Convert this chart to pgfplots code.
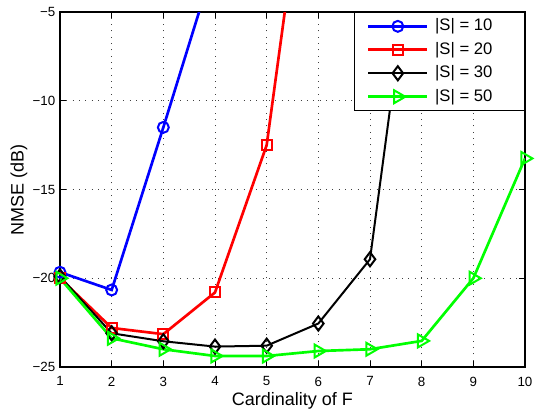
\documentclass[border=0pt]{standalone}
\usepackage{pgfplots}
\pgfplotsset{compat=1.18}
\usepackage{fontspec}
\setmainfont{Liberation Sans}
\begin{document}
\begin{tikzpicture}
\begin{axis}[%
width=348.75pt,
height=266.25pt,
scale only axis,
xmin=1, xmax=10,
ymin=-25, ymax=-5,
xtick={1,2,...,10},
ytick={-25,-20,-15,-10,-5},
yticklabels={−25,−20,−15,−10,−5},
xlabel={Cardinality of F},
ylabel={NMSE (dB)},
xmajorgrids, ymajorgrids,
grid style={black!75, dash pattern=on 0.75pt off 4pt, line width=0.6pt},
tick align=inside,
major tick length=4.5pt,
tick style={black, line width=0.5pt},
axis line style={line width=0.8pt},
ticklabel style={font=\fontsize{10}{12}\selectfont},
xticklabel style={yshift=-3.8pt},
label style={font=\fontsize{13.5}{15}\selectfont},
xlabel style={yshift=2.4pt},
ylabel style={yshift=-2.8pt},
/pgf/number format/assume math mode=true,
legend style={draw=black, line width=0.8pt, fill=white, legend cell align=left,
  font=\fontsize{12.5}{14}\selectfont,
  inner xsep=9.75pt, inner ysep=4.45pt, row sep=5.8pt, column sep=5pt,
  nodes={inner sep=0pt, text height=9.2pt, text depth=2.6pt},
  at={(1,1)}, anchor=north east},
legend image code/.code={%
  \draw[mark repeat=2,mark phase=2] plot coordinates {(0pt,0pt) (22pt,0pt) (44pt,0pt)};},
]
\addplot [color=blue, line width=2pt, mark=o, mark size=4.1pt, mark options={solid, line width=1.5pt}]
  table[row sep=crcr]{1 -19.66\\
2 -20.66\\
3 -11.5\\
4 -2.1\\
};
\addlegendentry{|S| = 10\hspace*{14.25pt}};

\addplot [color=red, line width=2pt, mark=square, mark size=3.75pt, mark options={solid, line width=1.5pt}]
  table[row sep=crcr]{1 -20.0\\
2 -22.8\\
3 -23.15\\
4 -20.8\\
5 -12.5\\
6 8.9\\
};
\addlegendentry{|S| = 20\hspace*{14.25pt}};

\addplot [color=black, line width=1.5pt, mark=diamond, mark size=5.3pt, mark options={solid, line width=1.5pt}]
  table[row sep=crcr]{1 -19.9\\
2 -23.1\\
3 -23.55\\
4 -23.85\\
5 -23.8\\
6 -22.55\\
7 -18.93\\
8 2.9\\
};
\addlegendentry{|S| = 30\hspace*{14.25pt}};

\addplot [color=green, line width=2pt, mark=triangle, mark size=5.6pt, mark options={solid, rotate=-90, line width=1.5pt}]
  table[row sep=crcr]{1 -20.0\\
2 -23.38\\
3 -24.0\\
4 -24.38\\
5 -24.38\\
6 -24.1\\
7 -24.0\\
8 -23.53\\
9 -20.0\\
10 -13.25\\
};
\addlegendentry{|S| = 50\hspace*{14.25pt}};

\end{axis}
\pgfresetboundingbox
\useasboundingbox (current axis.south west) ++(-45pt,-33pt) rectangle ++(402pt,308.25pt);
\end{tikzpicture}
\end{document}
